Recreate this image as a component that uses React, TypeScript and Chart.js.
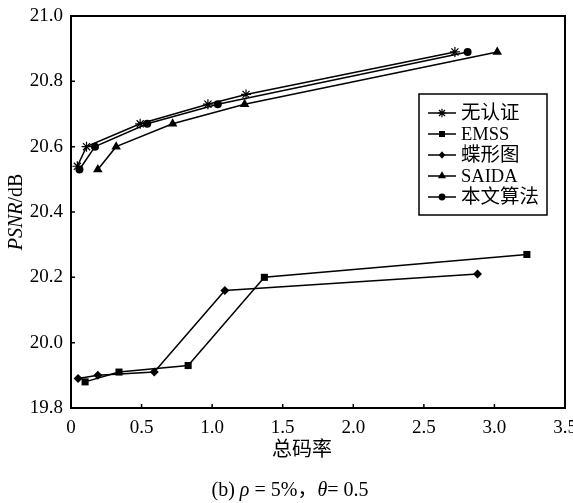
import React, { useEffect, useRef } from "react";
import { Chart, registerables } from "chart.js";

Chart.register(...registerables);

const seriesNames = ["无认证", "EMSS", "蝶形图", "SAIDA", "本文算法"];

const xNoAuth = [0.045, 0.11, 0.49, 0.97, 1.24, 2.72];
const yNoAuth = [20.54, 20.6, 20.67, 20.73, 20.76, 20.89];

const xEMSS = [0.1, 0.34, 0.83, 1.37, 3.23];
const yEMSS = [19.88, 19.91, 19.93, 20.2, 20.27];

const xButterfly = [0.05, 0.19, 0.59, 1.09, 2.88];
const yButterfly = [19.89, 19.9, 19.91, 20.16, 20.21];

const xSAIDA = [0.19, 0.32, 0.72, 1.23, 3.02];
const ySAIDA = [20.53, 20.6, 20.67, 20.73, 20.89];

const xOurs = [0.06, 0.17, 0.54, 1.04, 2.81];
const yOurs = [20.53, 20.6, 20.67, 20.73, 20.89];

const xTicks = [0, 0.5, 1.0, 1.5, 2.0, 2.5, 3.0, 3.5];
const yTicks = [19.8, 20.0, 20.2, 20.4, 20.6, 20.8, 21.0];

const xTitle = "总码率";
const yTitleItalic = "PSNR";
const yTitleRest = "/dB";
const captionParts: [string, boolean][] = [
  ["(b) ", false],
  ["ρ", true],
  [" = 5%，", false],
  ["θ", true],
  ["= 0.5", false],
];

const pointStyles = ["star", "rect", "rectRot", "triangle", "circle"];
const pointRadii = [5, 5, 4.5, 5.5, 4];

const FONT = '"Liberation Serif", "Noto Sans CJK SC", serif';

function zip(xs: number[], ys: number[]) {
  return xs.map((x, i) => ({ x, y: ys[i] }));
}

function drawMarker(ctx: CanvasRenderingContext2D, style: string, x: number, y: number, r: number) {
  ctx.save();
  ctx.fillStyle = "#000";
  ctx.strokeStyle = "#000";
  ctx.lineWidth = 1.2;
  ctx.beginPath();
  if (style === "star") {
    for (let k = 0; k < 4; k++) {
      const a = (k * Math.PI) / 4;
      ctx.moveTo(x - Math.cos(a) * r, y - Math.sin(a) * r);
      ctx.lineTo(x + Math.cos(a) * r, y + Math.sin(a) * r);
    }
    ctx.stroke();
  } else if (style === "rect") {
    const s = Math.SQRT1_2 * r;
    ctx.rect(x - s, y - s, 2 * s, 2 * s);
    ctx.fill();
  } else if (style === "rectRot") {
    ctx.moveTo(x, y - r);
    ctx.lineTo(x + r * 0.85, y);
    ctx.lineTo(x, y + r);
    ctx.lineTo(x - r * 0.85, y);
    ctx.closePath();
    ctx.fill();
  } else if (style === "triangle") {
    ctx.moveTo(x, y - r);
    ctx.lineTo(x + r * 0.866, y + r * 0.5);
    ctx.lineTo(x - r * 0.866, y + r * 0.5);
    ctx.closePath();
    ctx.fill();
  } else {
    ctx.arc(x, y, r, 0, Math.PI * 2);
    ctx.fill();
  }
  ctx.restore();
}

const decorPlugin = {
  id: "decor",
  afterDraw(chart: any) {
    const ctx: CanvasRenderingContext2D = chart.ctx;
    const area = chart.chartArea;
    const xs = chart.scales.x;
    const ys = chart.scales.y;
    ctx.save();
    // frame
    ctx.strokeStyle = "#000";
    ctx.lineWidth = 2;
    ctx.strokeRect(area.left, area.top, area.right - area.left, area.bottom - area.top);
    // inward ticks
    ctx.lineWidth = 1.5;
    ctx.beginPath();
    xTicks.forEach((v) => {
      const px = xs.getPixelForValue(v);
      ctx.moveTo(px, area.bottom);
      ctx.lineTo(px, area.bottom - 4);
    });
    yTicks.forEach((v) => {
      const py = ys.getPixelForValue(v);
      ctx.moveTo(area.left, py);
      ctx.lineTo(area.left + 4, py);
    });
    ctx.stroke();

    // legend
    const lx = 419, ly = 94, lw = 128, lh = 121;
    ctx.fillStyle = "#fff";
    ctx.fillRect(lx, ly, lw, lh);
    ctx.lineWidth = 1.5;
    ctx.strokeRect(lx, ly, lw, lh);
    ctx.textBaseline = "middle";
    ctx.textAlign = "left";
    seriesNames.forEach((name, i) => {
      const ry = ly + 19 + i * 21;
      ctx.strokeStyle = "#000";
      ctx.lineWidth = 1.5;
      ctx.beginPath();
      ctx.moveTo(lx + 9, ry);
      ctx.lineTo(lx + 37, ry);
      ctx.stroke();
      drawMarker(ctx, pointStyles[i], lx + 23, ry, pointRadii[i] * 0.85);
      ctx.fillStyle = "#000";
      const cjk = /[\u4e00-\u9fff]/.test(name);
      ctx.font = `${cjk ? 19.5 : 18.5}px ${FONT}`;
      ctx.fillText(name, lx + 42, ry + 1);
    });

    // x title
    ctx.font = `20px ${FONT}`;
    ctx.textAlign = "center";
    ctx.fillText(xTitle, 302, 451);

    // y title
    ctx.save();
    ctx.translate(17, 212);
    ctx.rotate(-Math.PI / 2);
    ctx.font = `italic 20px ${FONT}`;
    const w1 = ctx.measureText(yTitleItalic).width;
    ctx.font = `20px ${FONT}`;
    const w2 = ctx.measureText(yTitleRest).width;
    const start = -(w1 + w2) / 2;
    ctx.textAlign = "left";
    ctx.font = `italic 20px ${FONT}`;
    ctx.fillText(yTitleItalic, start, 0);
    ctx.font = `20px ${FONT}`;
    ctx.fillText(yTitleRest, start + w1, 0);
    ctx.restore();

    // caption
    ctx.textAlign = "left";
    let total = 0;
    captionParts.forEach(([t, it]) => {
      ctx.font = `${it ? "italic " : ""}20px ${FONT}`;
      total += ctx.measureText(t).width;
    });
    let cx = 290 - total / 2;
    captionParts.forEach(([t, it]) => {
      ctx.font = `${it ? "italic " : ""}20px ${FONT}`;
      ctx.fillText(t, cx, 491);
      cx += ctx.measureText(t).width;
    });
    ctx.restore();
  },
};

export default function App() {
  const ref = useRef<HTMLCanvasElement>(null);
  useEffect(() => {
    document.body.style.margin = "0";
    const canvas = ref.current!;
    const datasets = [
      zip(xNoAuth, yNoAuth),
      zip(xEMSS, yEMSS),
      zip(xButterfly, yButterfly),
      zip(xSAIDA, ySAIDA),
      zip(xOurs, yOurs),
    ].map((data, i) => ({
      label: seriesNames[i],
      data,
      borderColor: "#000",
      backgroundColor: "#000",
      borderWidth: 1.5,
      pointStyle: pointStyles[i] as any,
      pointRadius: pointRadii[i],
      pointBorderWidth: i === 0 ? 1.2 : 0,
      pointBackgroundColor: "#000",
      pointBorderColor: "#000",
      tension: 0,
      fill: false,
    }));
    const chart = new Chart(canvas, {
      type: "line",
      data: { datasets },
      options: {
        responsive: false,
        animation: false,
        layout: { padding: { left: 0, top: 16, right: 8, bottom: 0 } },
        plugins: { legend: { display: false }, tooltip: { enabled: false } },
        scales: {
          x: {
            type: "linear",
            min: 0,
            max: 3.5,
            afterFit: (s: any) => {
              s.height = 95;
              s.paddingLeft = 0;
              s.paddingRight = 0;
            },
            afterBuildTicks: (s: any) => {
              s.ticks = xTicks.map((v) => ({ value: v }));
            },
            grid: { display: false, drawTicks: false },
            border: { display: false },
            ticks: {
              color: "#000",
              padding: 9,
              font: { family: FONT, size: 19 },
              callback: (v: any) => (Number(v) === 0 ? "0" : Number(v).toFixed(1)),
            },
          },
          y: {
            type: "linear",
            min: 19.8,
            max: 21.0,
            afterFit: (s: any) => {
              s.width = 71;
              s.paddingTop = 0;
              s.paddingBottom = 0;
            },
            afterBuildTicks: (s: any) => {
              s.ticks = yTicks.map((v) => ({ value: v }));
            },
            grid: { display: false, drawTicks: false },
            border: { display: false },
            ticks: {
              color: "#000",
              padding: 8,
              font: { family: FONT, size: 19 },
              callback: (v: any) => Number(v).toFixed(1),
            },
          },
        },
      },
      plugins: [decorPlugin],
    });
    return () => chart.destroy();
  }, []);
  return <canvas ref={ref} width={573} height={503} style={{ display: "block" }} />;
}
